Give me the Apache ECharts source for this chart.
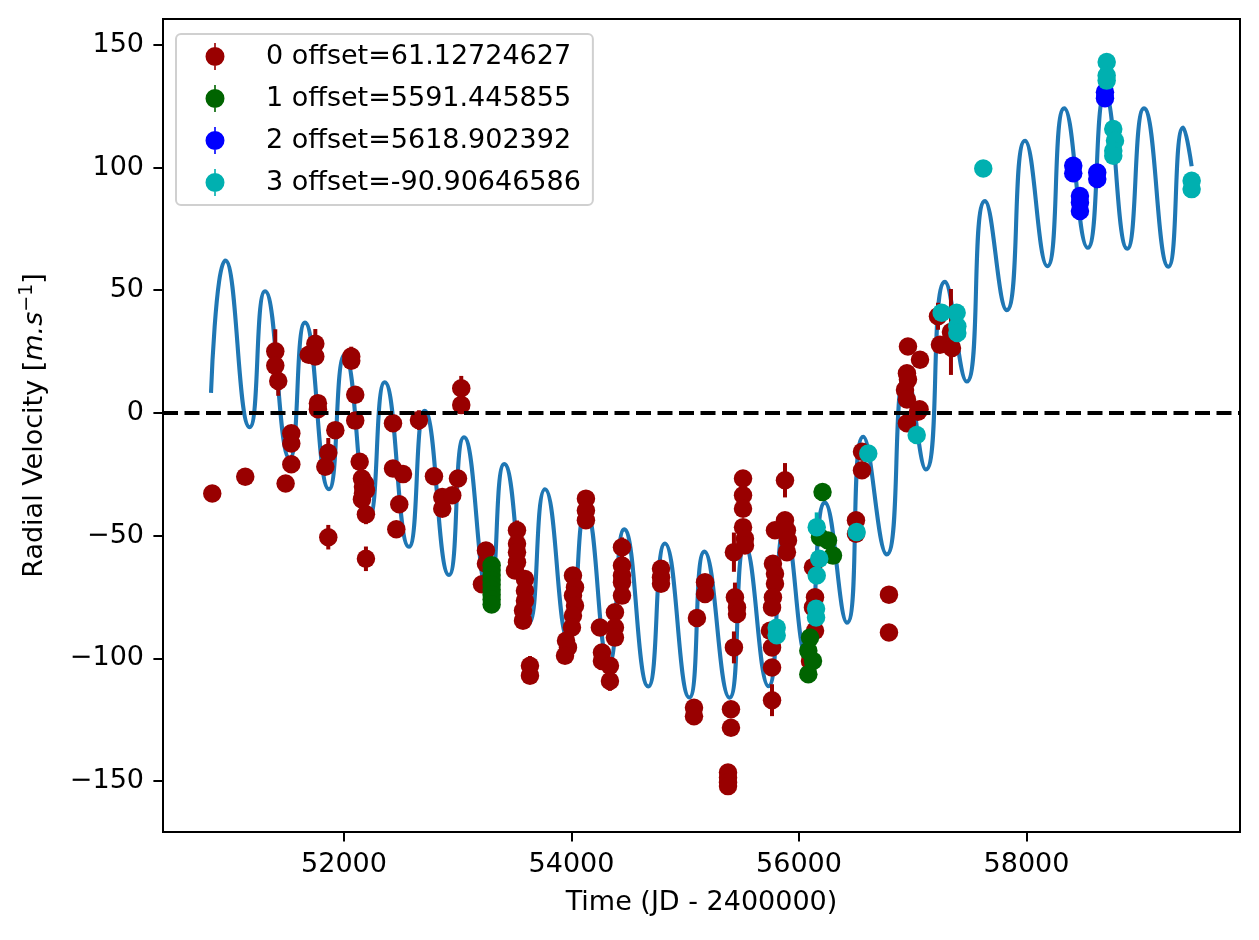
<!DOCTYPE html>
<html>
<head>
<meta charset="utf-8">
<script src="https://cdn.jsdelivr.net/npm/echarts@6.0.0/dist/echarts.min.js"></script>
<style>
  html, body { margin: 0; padding: 0; background: #fff; }
  #main { width: 1259px; height: 940px; }
</style>
</head>
<body>
<div id="main"></div>
<script>
// model curve at its peaks and troughs
var curveT = [50831, 50957, 51171, 51306, 51523, 51657, 51868, 52006, 52220, 52358,
  52571, 52709, 52923, 53055, 53275, 53409, 53626, 53767, 53978, 54125,
  54330, 54464, 54675, 54822, 55036, 55169, 55389, 55525, 55732, 55877,
  56070, 56228, 56422, 56565, 56771, 56940, 57116, 57283, 57474, 57635,
  57826, 57987, 58183, 58332, 58538, 58690, 58886, 59033, 59247, 59378, 59452];
var curveV = [8.2, 62.1, -5.8, 49.6, -18.5, 36.8, -31.1, 23.6, -42.8, 12.5,
  -54.5, 0.9, -66, -9.9, -74.8, -20.8, -85.7, -31.1, -93.2, -39.1,
  -102, -47.4, -111.4, -53.2, -115.9, -56.5, -116, -54, -111.3, -46.5,
  -100, -36.5, -85.4, -9.7, -57.6, 16.7, -23, 53.4, 12.8, 86.3,
  41.9, 110.9, 59.8, 124.1, 67.3, 130, 66.9, 124.1, 59.6, 116.3, 100.5];

// instrument 0
var t0 = [50842, 51132, 51396, 51396, 51422, 51487, 51537, 51537, 51537, 51690,
  51748, 51748, 51771, 51771, 51862, 51836, 51862, 51924, 52064, 52064,
  52099, 52099, 52138, 52158, 52185, 52167, 52193, 52158, 52167, 52193,
  52193, 52431, 52431, 52519, 52486, 52460, 52659, 52791, 52864, 52864,
  52952, 53002, 53031, 53031,
  53248, 53248, 53213, 53521, 53521, 53521, 53521, 53503, 53591, 53591,
  53591, 53574, 53574, 53635, 53635, 54013, 54031, 54013, 54031, 54013,
  54004, 53952, 53969, 53943, 54127, 54127, 54127, 54250, 54268, 54268,
  54338, 54338, 54382, 54382, 54382, 54444, 54444, 54444, 54444, 54444,
  54787, 54787, 54787, 55103, 55174, 55174, 55077, 55077, 55402, 55402,
  55376, 55376, 55376, 55376, 55428, 55437, 55455, 55455, 55428, 55508,
  55508, 55508, 55508, 55525, 55525,
  55877, 55789, 55877, 55894, 55903, 55894, 55771, 55789, 55789, 55771,
  55763, 55745, 55763, 55763, 55763, 56123, 56141, 56123, 56141, 56097,
  56501, 56501, 56554, 56554, 56791, 56791,
  56958, 57064, 56949, 56958, 56932, 56949, 57046, 57060, 56949, 57222,
  57239, 57345, 57336];
var rv0 = [-32.8, -26.0, 25.1, 19.3, 13.0, -28.7, -8.3, -12.4, -20.9, 23.7,
  28.2, 23.0, 4.0, 1.5, -16.2, -21.9, -50.6, -7.0, 23.0, 21.3,
  7.4, -3.1, -19.9, -26.7, -28.7, -30.1, -31.5, -35.2, -32.8, -41.3,
  -59.4, -4.2, -22.6, -24.9, -37.2, -47.4, -2.9, -25.8, -34.2, -39.0,
  -33.5, -26.7, 10.1, 3.3,
  -56.0, -61.4, -69.8, -47.8, -53.3, -56.7, -60.8, -64.2, -67.6, -72.4,
  -76.5, -80.5, -84.6, -103, -107, -66.2, -71, -74.4, -78.5, -82.6,
  -87.4, -92.8, -95.5, -98.9, -34.9, -39.7, -43.7, -87.4, -97.6, -101,
  -103, -109.2, -81.2, -87.4, -91.5, -54.7, -62.1, -66.2, -69, -74.4,
  -63.5, -66.9, -69.6, -83.5, -69, -73.7, -120.1, -123.5, -120.7, -128.2,
  -146.5, -148.5, -150.5, -152, -56.7, -75.1, -79.2, -81.9, -95.5, -26.7,
  -33.5, -39, -46.5, -51.2, -54,
  -27.4, -47.8, -43.7, -47.8, -51.9, -56.7, -61.4, -65.5, -69.6, -75.1,
  -79.2, -88.7, -95.5, -103.7, -117, -62.8, -75.1, -79.2, -88.7, -101,
  -43.7, -49.2, -15.8, -23.3, -74, -89.4,
  27.1, 21.7, 16.2, 13.6, 9.4, 5.5, 0.5, 1.5, -4.2, 39.4,
  27.8, 26.5, 33];
var err0 = [2.5, 2.5, 9, 2.5, 6, 2.5, 2.5, 2.5, 2.5, 2.5,
  6, 2.5, 2.5, 2.5, 6, 2.5, 5, 2.5, 4, 2.5,
  2.5, 2.5, 2.5, 2.5, 2.5, 2.5, 2.5, 2.5, 2.5, 4,
  5, 2.5, 2.5, 2.5, 2.5, 2.5, 4, 2.5, 2.5, 2.5,
  2.5, 2.5, 5, 2.5,
  2.5, 2.5, 2.5, 4, 2.5, 2.5, 2.5, 2.5, 2.5, 2.5,
  2.5, 2.5, 2.5, 4, 2.5, 2.5, 2.5, 2.5, 2.5, 2.5,
  2.5, 2.5, 2.5, 2.5, 2.5, 2.5, 2.5, 2.5, 2.5, 2.5,
  2.5, 4, 2.5, 2.5, 2.5, 4, 2.5, 2.5, 2.5, 2.5,
  2.5, 2.5, 2.5, 2.5, 2.5, 2.5, 2.5, 2.5, 2.5, 2.5,
  3, 2.5, 2.5, 2.5, 8, 6, 2.5, 2.5, 6.5, 2.5,
  2.5, 2.5, 2.5, 2.5, 2.5,
  7, 2.5, 2.5, 2.5, 2.5, 2.5, 2.5, 2.5, 2.5, 2.5,
  2.5, 2.5, 2.5, 2.5, 6.5, 2.5, 2.5, 2.5, 2.5, 2.5,
  2.5, 2.5, 2.5, 2.5, 3, 2.5,
  2.5, 2.5, 2.5, 2.5, 2.5, 2.5, 2.5, 2.5, 2.5, 5.5,
  2.5, 2.5, 17.5];

// instrument 1
var t1 = [53298, 53298, 53298, 53298, 53298, 53298, 53298, 53298, 53298,
  56207, 56185, 56255, 56299, 56097, 56082, 56123, 56082];
var rv1 = [-62, -64, -66, -68, -70, -72, -74, -76, -78,
  -32.2, -50.6, -51.9, -58.1, -91.5, -96.9, -101, -106.4];
var err1 = [2, 2, 2, 2, 2, 2, 2, 2, 2, 2, 2, 2, 2, 2, 2, 2, 2];

// instrument 2
var t2 = [58411, 58411, 58470, 58470, 58470, 58622, 58622, 58690, 58690];
var rv2 = [100.7, 97.7, 88.4, 85.7, 82.3, 98, 95.3, 130.7, 128.2];
var err2 = [2, 2, 2, 2, 2, 2, 2, 2, 2];

// instrument 3
var t3 = [55804, 55804, 56156, 56178, 56156, 56150, 56150, 56507, 56609, 57035,
  57254, 57386, 57392, 57392, 57620, 58705, 58705, 58705, 58763, 58778,
  58763, 58763, 59452, 59452];
var rv3 = [-87.5, -90.5, -46.5, -59.4, -66.2, -79.8, -83.3, -48.5, -16.5, -9.0,
  40.8, 40.8, 35.3, 32.6, 99.6, 143, 137.5, 135.4, 115.7, 110.9,
  106.8, 104.8, 94.6, 91.2];
var err3 = [2, 2, 6, 2, 2, 2, 2, 2, 2, 2,
  2, 2, 2, 2, 2, 2, 2, 2, 2, 2,
  2, 2, 2, 2];

var names = ['0 offset=61.12724627', '1 offset=5591.445855',
  '2 offset=5618.902392', '3 offset=-90.90646586'];
var colors = ['#990000', '#006400', '#0000ff', '#00b0b0'];
var xTicks = [52000, 54000, 56000, 58000];
var yTicks = [-150, -100, -50, 0, 50, 100, 150];

var myChart = echarts.init(document.getElementById('main'));
var font = 'DejaVu Sans';
var icon = 'path://M8.7,0h1.6v27h-1.6z M19,13.5a9.5,9.5 0 1,1 -19,0a9.5,9.5 0 1,1 19,0z';

function pairs(a, b) {
  return a.map(function (v, i) { return [v, b[i]]; });
}

function errSeries(t, v, e, c) {
  return {
    type: 'custom',
    silent: true,
    z: 3,
    data: t.map(function (x, i) { return [x, v[i] - e[i], v[i] + e[i]]; }),
    encode: { x: 0, y: [1, 2] },
    renderItem: function (params, api) {
      var p1 = api.coord([api.value(0), api.value(1)]);
      var p2 = api.coord([api.value(0), api.value(2)]);
      return {
        type: 'line',
        shape: { x1: p1[0], y1: p1[1], x2: p2[0], y2: p2[1] },
        style: { stroke: c, lineWidth: 4 }
      };
    }
  };
}

function dotSeries(name, t, v, c) {
  return {
    name: name,
    type: 'scatter',
    z: 4,
    symbol: 'circle',
    symbolSize: 18.5,
    itemStyle: { color: c, opacity: 1 },
    data: pairs(t, v)
  };
}

var minus = function (v) { return String(v).replace('-', '\u2212'); };

var option = {
  animation: false,
  backgroundColor: '#fff',
  grid: {
    left: 163, top: 19, right: 19, bottom: 108,
    show: true, borderColor: '#000', borderWidth: 2
  },
  legend: {
    orient: 'vertical',
    left: 176, top: 34,
    padding: [9, 12, 9, 29.5],
    itemWidth: 19, itemHeight: 27, itemGap: 15,
    backgroundColor: 'rgba(255,255,255,0.8)',
    borderColor: '#d0d0d0', borderWidth: 2, borderRadius: 5,
    textStyle: { fontFamily: font, fontSize: 27, color: '#000', padding: [0, 0, 0, 36.5] },
    data: names.map(function (n) { return { name: n, icon: icon }; })
  },
  xAxis: {
    type: 'value',
    min: 50409, max: 59877,
    name: 'Time (JD - 2400000)',
    nameLocation: 'middle', nameGap: 57,
    nameTextStyle: { fontFamily: font, fontSize: 27, color: '#000' },
    axisLine: { onZero: false, lineStyle: { color: '#000', width: 2 } },
    axisTick: { customValues: xTicks, length: 9.6, lineStyle: { color: '#000', width: 2 } },
    axisLabel: {
      customValues: xTicks, margin: 19, fontFamily: font, fontSize: 27, color: '#000',
      formatter: function (v) { return String(v); }
    },
    splitLine: { show: false }
  },
  yAxis: {
    type: 'value',
    min: -170.7, max: 160.5,
    name: '{n|Radial Velocity [}{i|m.s}{s|\u22121}{n|]}',
    nameLocation: 'middle', nameGap: 112, nameRotate: 90,
    nameTextStyle: {
      fontFamily: font, fontSize: 27, color: '#000',
      rich: {
        n: { fontFamily: font, fontSize: 27, color: '#000' },
        i: { fontFamily: font, fontSize: 27, fontStyle: 'italic', color: '#000' },
        s: { fontFamily: font, fontSize: 19, color: '#000', padding: [0, 0, 14, 0] }
      }
    },
    axisLine: { onZero: false, lineStyle: { color: '#000', width: 2 } },
    axisTick: { customValues: yTicks, length: 9.6, lineStyle: { color: '#000', width: 2 } },
    axisLabel: { customValues: yTicks, margin: 19, fontFamily: font, fontSize: 27, color: '#000', formatter: minus },
    splitLine: { show: false }
  },
  series: [
    {
      name: 'model',
      type: 'line',
      z: 2,
      smooth: 0.55,
      showSymbol: false,
      silent: true,
      lineStyle: { color: '#1f77b4', width: 4.1 },
      data: pairs(curveT, curveV),
      markLine: {
        silent: true,
        symbol: ['none', 'none'],
        label: { show: false },
        lineStyle: { color: '#000', width: 4, type: [15, 6.5] },
        data: [{ yAxis: 0 }]
      }
    },
    errSeries(t0, rv0, err0, colors[0]),
    dotSeries(names[0], t0, rv0, colors[0]),
    errSeries(t1, rv1, err1, colors[1]),
    dotSeries(names[1], t1, rv1, colors[1]),
    errSeries(t2, rv2, err2, colors[2]),
    dotSeries(names[2], t2, rv2, colors[2]),
    errSeries(t3, rv3, err3, colors[3]),
    dotSeries(names[3], t3, rv3, colors[3])
  ]
};
myChart.setOption(option);
</script>
</body>
</html>
